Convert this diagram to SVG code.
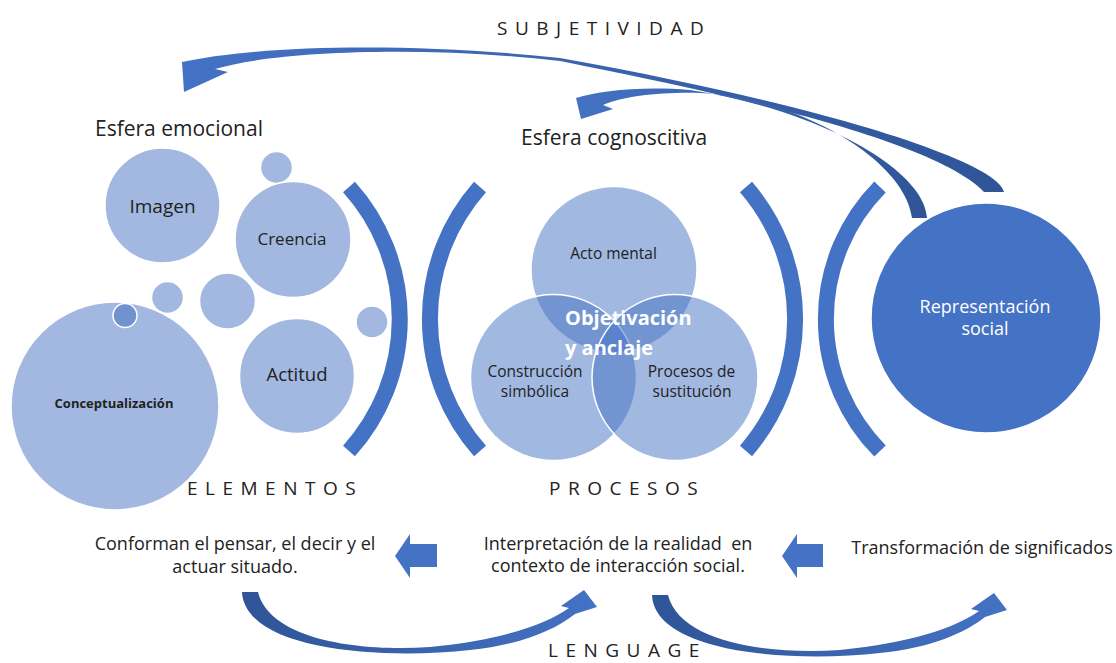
<svg xmlns="http://www.w3.org/2000/svg" width="1116" height="663" viewBox="0 0 1116 663">
<style>
text{font-family:"Open Sans","Noto Sans","Liberation Sans",sans-serif;fill:#222}
.lt{fill:#A3B8E0;stroke:#fff;stroke-width:1.5}
.dk{fill:#7092D0;stroke:#fff;stroke-width:1.5}
.venn{fill:#4472C4;fill-opacity:.5;stroke:#fff;stroke-width:1.5}
.arc{fill:none;stroke:#4472C4;stroke-width:16}
.hdr{font-size:19px;letter-spacing:7.5px}
.body{font-size:18px}
.big{font-size:21px}
.vt{font-size:15.5px}
.wt{fill:#fff}
.blk{fill:#4472C4}
</style>
<defs>
<linearGradient id="gTop" x1="1" y1="0" x2="0" y2="0">
<stop offset="0" stop-color="#2F5597"/><stop offset="1" stop-color="#4472C4"/>
</linearGradient>
<linearGradient id="gBot" x1="0" y1="0" x2="1" y2="0">
<stop offset="0" stop-color="#2F5597"/><stop offset="1" stop-color="#4472C4"/>
</linearGradient>
<path id="lowArrow" d="M242,592 C245,650 380,660 470,650 C520,645 555,630 575,614 L597,607 L584,590 L561,606 L569,608 C545,625 500,640 430,647 C360,652 270,640 258,592 Z"/>
</defs>

<g id="labels">
<text class="hdr" x="497" y="35">SUBJETIVIDAD</text>
<text class="big" x="95" y="136">Esfera emocional</text>
<text class="big" x="521" y="145">Esfera cognoscitiva</text>
<text class="hdr" x="187" y="495">ELEMENTOS</text>
<text class="hdr" x="549" y="495">PROCESOS</text>
<text class="hdr" x="548" y="657">LENGUAGE</text>
</g>

<g id="brackets">
<path class="arc" d="M349,187 A197,197 0 0 1 349,451"/>
<path class="arc" d="M480,187 A199,199 0 0 0 480,451"/>
<path class="arc" d="M746,187 A202,202 0 0 1 746,451"/>
<path class="arc" d="M880,187 A188,188 0 0 0 880,451"/>
</g>

<g id="elementos">
<g id="n-imagen"><circle class="lt" cx="162.5" cy="205.5" r="57.5"/><text x="162.5" y="213" text-anchor="middle" font-size="19">Imagen</text></g>
<circle class="lt" cx="276.5" cy="167.5" r="16"/>
<g id="n-creencia"><circle class="lt" cx="293" cy="239.5" r="58"/><text x="292" y="245" text-anchor="middle" font-size="17">Creencia</text></g>
<circle class="lt" cx="167.5" cy="297.5" r="16"/>
<circle class="lt" cx="227.5" cy="301" r="28"/>
<circle class="lt" cx="372" cy="322" r="16"/>
<g id="n-concept"><circle class="lt" cx="115" cy="406" r="104"/><circle class="dk" cx="125" cy="315.5" r="12"/><text x="114" y="408" text-anchor="middle" font-size="13" font-weight="bold">Conceptualización</text></g>
<g id="n-actitud"><circle class="lt" cx="297" cy="376" r="57.5"/><text x="297" y="381" text-anchor="middle" font-size="18.5">Actitud</text></g>
</g>

<g id="procesos">
<circle class="venn" cx="614" cy="269.5" r="83"/>
<circle class="venn" cx="553.5" cy="377.5" r="83"/>
<circle class="venn" cx="675" cy="377.5" r="83"/>
<text class="vt" x="613.5" y="259" text-anchor="middle">Acto mental</text>
<text class="vt" x="535" y="377" text-anchor="middle">Construcción</text>
<text class="vt" x="535" y="397" text-anchor="middle">simbólica</text>
<text class="vt" x="691.5" y="377" text-anchor="middle">Procesos de</text>
<text class="vt" x="692" y="397" text-anchor="middle">sustitución</text>
<text class="wt" x="565" y="325" font-size="20" font-weight="bold">Objetivación</text>
<text class="wt" x="565" y="355" font-size="20" font-weight="bold">y anclaje</text>
</g>

<g id="representacion">
<circle cx="986" cy="318" r="115" fill="#4472C4" stroke="#fff" stroke-width="1.5"/>
<text class="wt" x="985" y="313" text-anchor="middle" font-size="18">Representación</text>
<text class="wt" x="985" y="335" text-anchor="middle" font-size="18">social</text>
</g>

<g id="texts">
<text class="body" x="235" y="550" text-anchor="middle">Conforman el pensar, el decir y el</text>
<text class="body" x="235" y="573" text-anchor="middle">actuar situado.</text>
<text class="body" x="618" y="550" text-anchor="middle" xml:space="preserve">Interpretación de la realidad  en</text>
<text class="body" x="618" y="572" text-anchor="middle">contexto de interacción social.</text>
<text class="body" x="982" y="554" text-anchor="middle">Transformación de significados</text>
</g>

<g id="connectors">
<path fill="url(#gTop)" d="M1004,192 C1000,165 850,110 560,58 C420,43 265,44 182,62 L184,92 L228,72 L215,69 C280,50 430,46 560,61 C680,85 930,135 984,192 Z"/>
<path fill="url(#gTop)" d="M927,218 C925,170 820,110 690,90 C640,86 600,91 576,98 L581,119 L613,109 L603,105 C625,96 660,92 700,93 C800,98 905,160 912,218 Z"/>
<use href="#lowArrow" fill="url(#gBot)"/>
<use href="#lowArrow" fill="url(#gBot)" transform="translate(410,3)"/>
<path class="blk" d="M395,556 L410,534 L410,544 L437,544 L437,567 L410,567 L410,578 Z"/>
<path class="blk" d="M782,556 L797,534 L797,544 L823,544 L823,567 L797,567 L797,578 Z"/>
</g>
</svg>
